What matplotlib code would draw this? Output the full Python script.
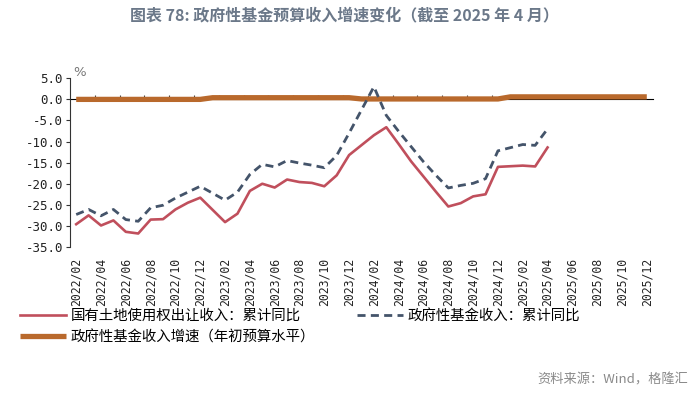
import matplotlib
matplotlib.use("Agg")
import matplotlib.pyplot as plt
import numpy as np

plt.rcParams['font.family'] = ['Noto Sans CJK SC', 'DejaVu Sans']

nan = np.nan

# monthly categories 2022/02 .. 2025/12
months = ["%d/%02d" % (y, m) for y in range(2022, 2026) for m in range(1, 13)][1:]

# 国有土地使用权出让收入：累计同比 (%)
land_yoy = [-29.6, -27.5, -29.9, -28.7, -31.4, -31.8, -28.5, -28.4, -26.1, -24.5, -23.3,
            nan, -29.1, -27.1, -21.7, -20.0, -20.9, -19.0, -19.6, -19.8, -20.6, -18.0, -13.2,
            nan, -8.5, -6.6, -10.6, -14.7, -18.3, -21.9, -25.4, -24.6, -23.0, -22.5, -16.0,
            nan, -15.7, -15.9, -11.4] + [nan] * 8

# 政府性基金收入：累计同比 (%)
fund_yoy = [-27.3, -26.1, -27.6, -26.1, -28.5, -28.9, -25.7, -25.1, -23.4, -22.0, -20.6,
            nan, -23.9, -22.0, -17.8, -15.4, -16.0, -14.5, -15.1, -15.6, -16.2, -13.3, -8.0,
            nan, 3.0, -3.8, -7.6, -11.2, -14.8, -18.0, -21.0, -20.4, -19.9, -18.8, -12.2,
            nan, -10.7, -10.9, -7.0] + [nan] * 8

# 政府性基金收入增速（年初预算水平）(%)
budget_growth = [0.0] * 11 + [0.4] * 12 + [0.1] * 12 + [0.6] * 12


def connect(vals):
    # keep gaps out of the line (missing January data)
    v = np.array(vals, dtype=float)
    x = np.arange(len(v))
    ok = ~np.isnan(v)
    return x[ok], v[ok]


fig = plt.figure(figsize=(6.92, 3.94), dpi=100)
ax = fig.add_axes([70 / 692, 1 - 247 / 394, 583 / 692, 168.7 / 394])

ymin, ymax = -35, 5
xb, yb = connect(budget_growth)
ax.plot(xb, yb, color='#b9692c', lw=3.8, solid_capstyle='butt', zorder=2,
        label='政府性基金收入增速（年初预算水平）')
xl, yl = connect(land_yoy)
ax.plot(xl, yl, color='#c04f5c', lw=1.9, zorder=3, label='国有土地使用权出让收入：累计同比')
xf, yf = connect(fund_yoy)
ax.plot(xf, yf, color='#44546a', lw=2.0, ls=(0, (2.9, 1.9)), zorder=4,
        label='政府性基金收入：累计同比')

ax.set_xlim(-0.5, len(months) - 0.5)
ax.set_ylim(ymin, ymax)

for s in ['top', 'right', 'bottom']:
    ax.spines[s].set_visible(False)
ax.spines['left'].set_color('#333333')
ax.spines['left'].set_linewidth(0.8)

ax.set_yticks(np.arange(ymin, ymax + 1, 5))
ax.set_yticklabels(["%.1f" % v for v in np.arange(ymin, ymax + 1, 5)],
                   family='DejaVu Sans Mono', fontsize=9, color='#222222')
ax.tick_params(axis='y', length=3, width=0.8, color='#333333', pad=2)

ax.set_xticks(np.arange(0, len(months), 2))
ax.set_xticklabels(months[::2], rotation=90, family='DejaVu Sans Mono',
                   fontsize=8.3, color='#222222')
ax.tick_params(axis='x', length=0, pad=8)

# category axis crossing at zero with ticks between categories
zero_axis = ax.secondary_xaxis((0 - ymin) / (ymax - ymin))
zero_axis.set_xticks(np.arange(1.5, len(months) - 1, 2))
zero_axis.set_xticklabels([])
zero_axis.tick_params(length=3, width=0.8, color='#444444', direction='out')
zero_axis.spines['bottom'].set_color('#999999')
zero_axis.spines['bottom'].set_linewidth(1.0)

ax.text(0.005, 0.995, '%', transform=ax.transAxes, fontsize=9.5, color='#777777',
        family='DejaVu Sans', va='bottom')

handles, labels = ax.get_legend_handles_labels()
order = [1, 0, 2]
fig.legend([handles[i] for i in order], [labels[i] for i in order],
           loc='upper left', bbox_to_anchor=(20 / 692, 1 - 309 / 394), ncol=2,
           frameon=False, fontsize=10.4, handlelength=3.2, handletextpad=0.3,
           columnspacing=2.9, labelspacing=0.5, borderpad=0, borderaxespad=0)

fig.text(344 / 692, 1 - 15 / 394, '图表 78: 政府性基金预算收入增速变化（截至 2025 年 4 月）',
         ha='center', va='center', fontsize=11.5, fontweight='bold', color='#6b7889')
fig.text(688 / 692, 1 - 380 / 394, '资料来源：Wind，格隆汇', ha='right', va='center',
         fontsize=9.5, color='#8a8a8a')

fig.savefig('out.png', dpi=100)
